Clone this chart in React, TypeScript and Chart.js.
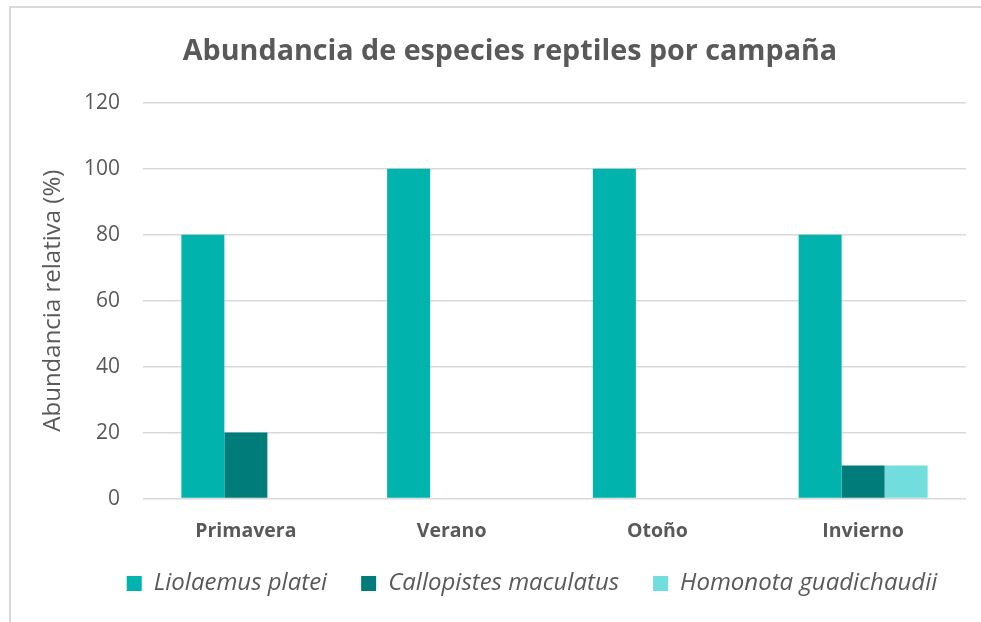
import React, { useEffect, useRef } from "react";
import { Chart, registerables } from "chart.js";

Chart.register(...registerables);

const categories = ["Primavera", "Verano", "Otoño", "Invierno"];
const liolaemus = [80, 100, 100, 80];
const callopistes = [20, 0, 0, 10];
const homonota = [0, 0, 0, 10];
const seriesNames = ["Liolaemus platei", "Callopistes maculatus", "Homonota guadichaudii"];
const titleText = "Abundancia de especies reptiles por campaña";
const yTitle = "Abundancia relativa (%)";

const TEXT = "#595959";
const GRID = "#d9d9d9";
const FONT = "'Open Sans', sans-serif";
const LEGEND_PAD = 34;
const LEGEND_FONT = 24;

const shiftPlugin = {
  id: "boxShift",
  afterLayout(chart: any) {
    const t = chart.titleBlock;
    if (t) {
      t.left += 21.5;
      t.right += 21.5;
    }
    const l = chart.legend;
    if (l) {
      const h = l.bottom - l.top;
      l.left += 43.5;
      l.right += 43.5;
      l.top = 575.5 - LEGEND_PAD - LEGEND_FONT / 2;
      l.bottom = l.top + h;
    }
  },
};

export default function App() {
  const ref = useRef<HTMLCanvasElement>(null);
  useEffect(() => {
    if (!ref.current) return;
    Chart.defaults.font.family = FONT;
    Chart.defaults.color = TEXT;
    const chart = new Chart(ref.current, {
      type: "bar",
      data: {
        labels: categories,
        datasets: [
          { label: seriesNames[0], data: liolaemus, backgroundColor: "#00B3AD" },
          { label: seriesNames[1], data: callopistes, backgroundColor: "#007C7A" },
          { label: seriesNames[2], data: homonota, backgroundColor: "#71DDDC" },
        ],
      },
      options: {
        responsive: false,
        animation: false,
        layout: { padding: { left: 0, right: 43, top: 0, bottom: 0 } },
        datasets: { bar: { barPercentage: 1, categoryPercentage: 0.627, borderWidth: 0 } },
        plugins: {
          title: {
            display: true,
            text: titleText,
            color: TEXT,
            font: { family: FONT, size: 28.7, weight: "bold" },
            padding: { top: 27, bottom: 33.3 },
          },
          legend: {
            position: "bottom",
            labels: {
              boxWidth: 15,
              boxHeight: 15,
              padding: LEGEND_PAD,
              color: TEXT,
              font: { family: FONT, size: LEGEND_FONT, style: "italic" },
            },
          },
          tooltip: { enabled: false },
        },
        scales: {
          x: {
            grid: { display: false, drawTicks: false },
            border: { display: false },
            ticks: { color: TEXT, padding: 21, font: { family: FONT, size: 19.5, weight: "bold" } },
          },
          y: {
            min: 0,
            max: 120,
            grid: { color: GRID, lineWidth: 1.5, drawTicks: false },
            border: { display: false },
            ticks: { stepSize: 20, color: TEXT, padding: 23, font: { family: FONT, size: 21 } },
            title: {
              display: true,
              text: yTitle,
              color: TEXT,
              font: { family: FONT, size: 24 },
              padding: { top: 27.6, bottom: 0 },
            },
            afterFit(scale: any) {
              scale.width = 132;
            },
          },
        },
      },
      plugins: [shiftPlugin],
    });
    return () => chart.destroy();
  }, []);

  return (
    <div style={{ position: "fixed", inset: 0, overflow: "hidden", background: "#fff" }}>
      <div
        style={{
          position: "absolute",
          left: 9,
          top: 6,
          width: 1010,
          height: 700,
          borderLeft: `2px solid ${GRID}`,
          borderTop: `2px solid ${GRID}`,
          boxSizing: "border-box",
        }}
      />
      <canvas
        ref={ref}
        width={998}
        height={624}
        style={{ position: "absolute", left: 11, top: 8, display: "block" }}
      />
    </div>
  );
}
